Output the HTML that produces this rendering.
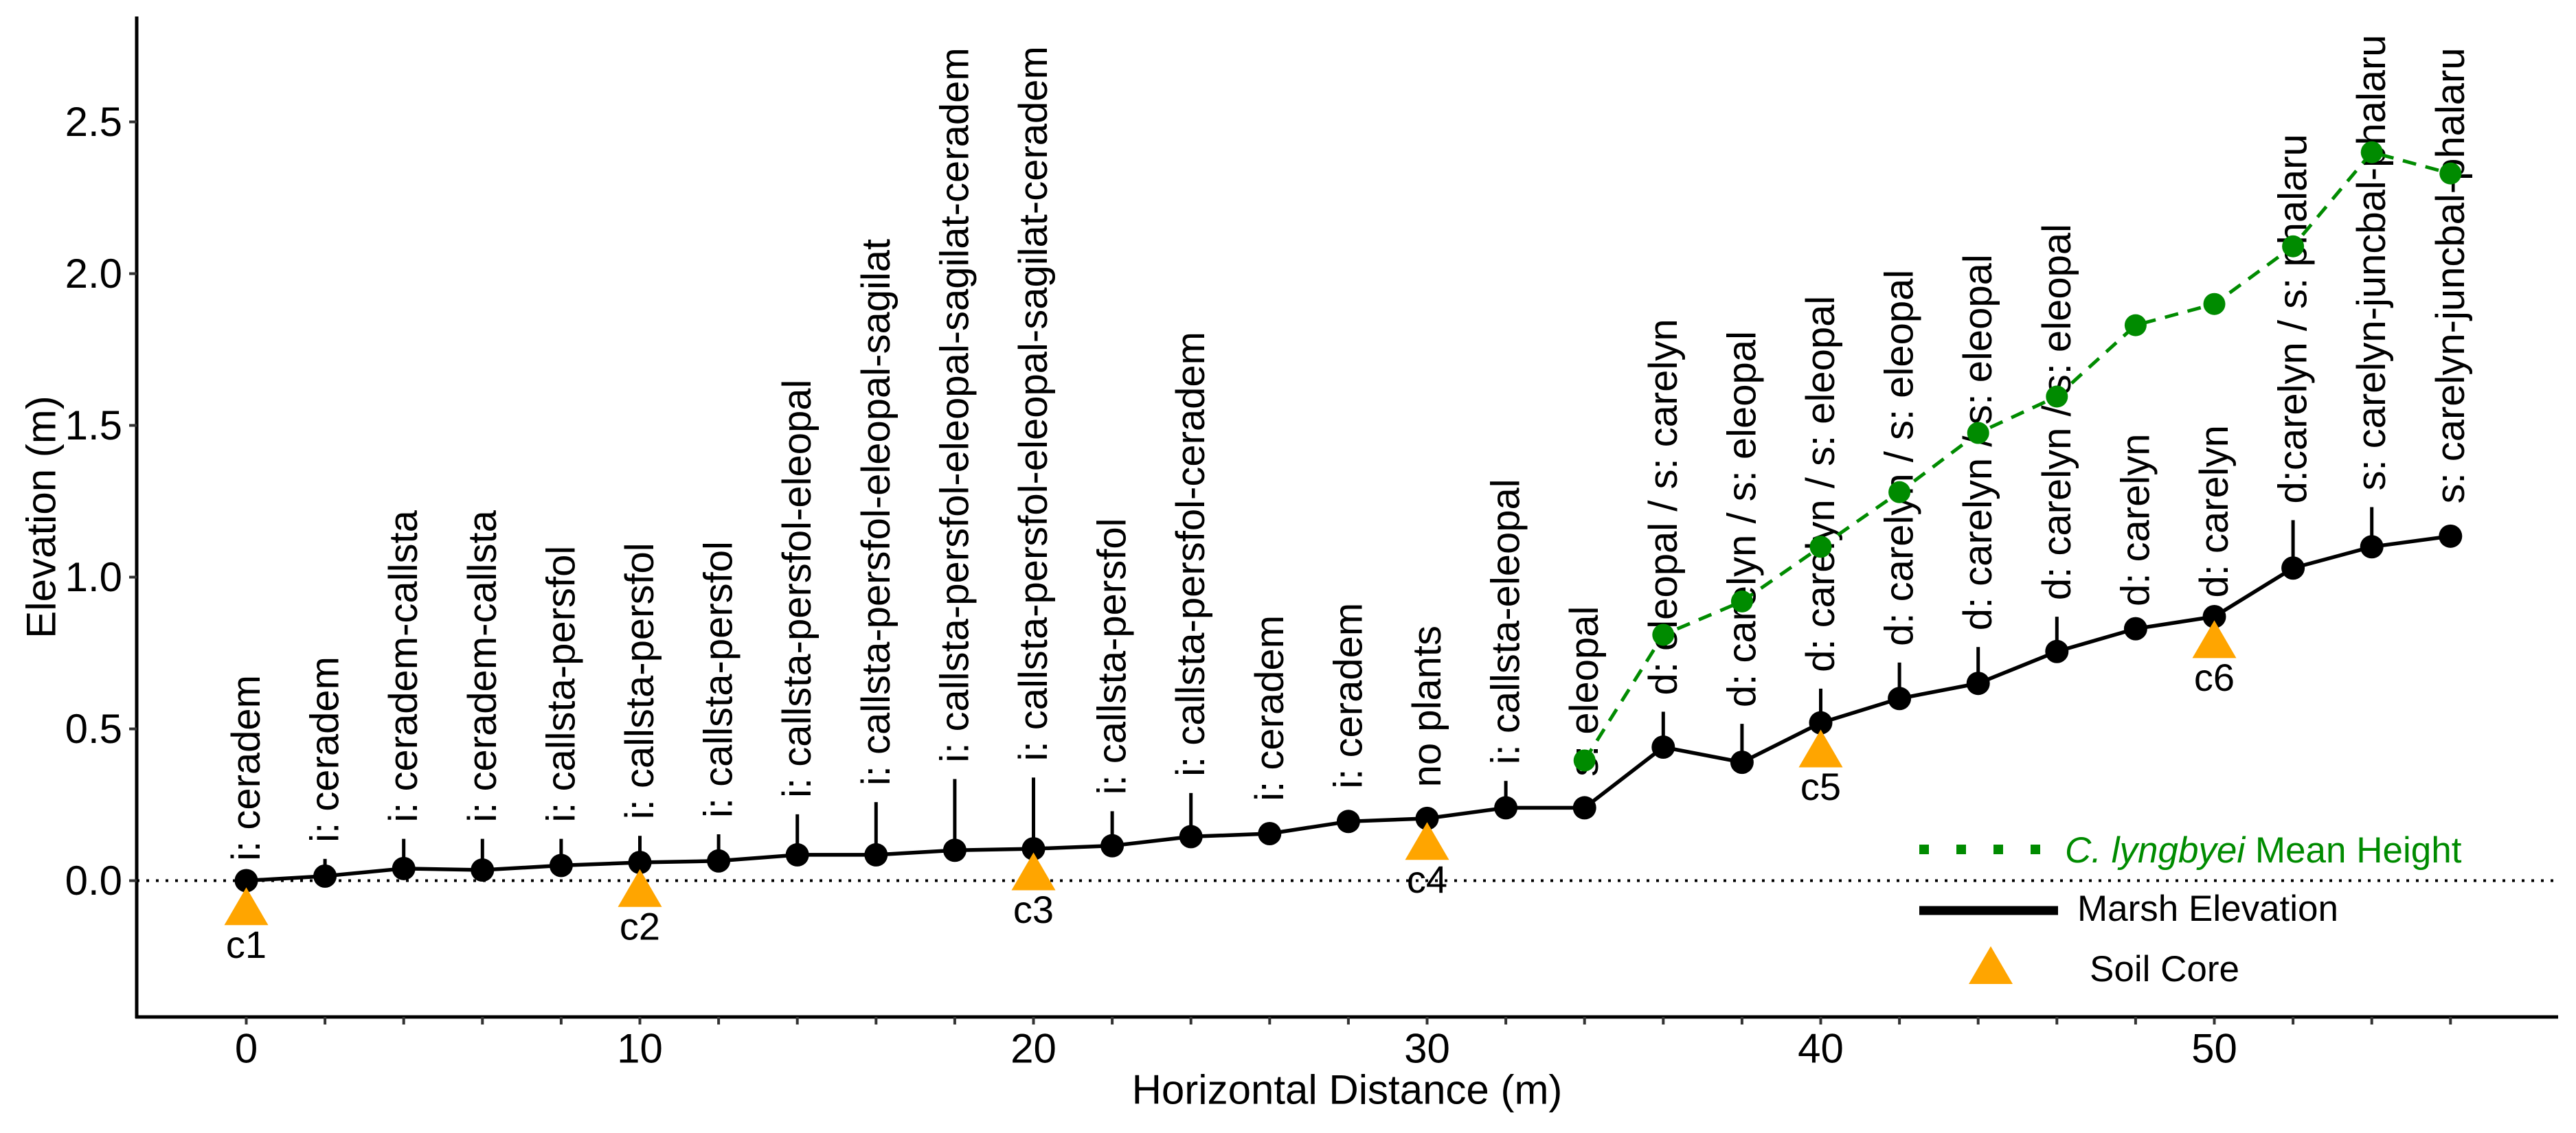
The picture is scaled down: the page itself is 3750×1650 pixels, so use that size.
<!DOCTYPE html>
<html><head><meta charset="utf-8"><style>
html,body{margin:0;padding:0;background:#fff;}
svg{display:block;font-family:"Liberation Sans",Arial,sans-serif;}
</style></head><body>
<svg id="chart" width="3750" height="1650" viewBox="0 0 3750 1650" xmlns="http://www.w3.org/2000/svg">
<g id="grid"></g>
<g id="plot"></g>
<g id="axes"></g>
<g id="legend">
  <line x1="2794" y1="1237" x2="2970" y2="1237" stroke="#008B00" stroke-width="14" stroke-dasharray="14,40"/>
  <text x="3006" y="1256" font-size="53" fill="#008B00"><tspan font-style="italic">C. lyngbyei</tspan> Mean Height</text>
  <line x1="2794" y1="1326" x2="2996" y2="1326" stroke="#000" stroke-width="13"/>
  <text x="3024" y="1341" font-size="53" fill="#000">Marsh Elevation</text>
  <polygon points="2898,1378 2866,1433 2930,1433" fill="#FFA500"/>
  <text x="3042" y="1429" font-size="53" fill="#000">Soil Core</text>
</g>
</svg>
<script>
const distances = [0,2,4,6,8,10,12,14,16,18,20,22,24,26,28,30,32,34,36,38,40,42,44,46,48,50,52,54,56];
const elevations = [0,0.015,0.04,0.035,0.05,0.06,0.065,0.085,0.085,0.1,0.105,0.115,0.145,0.155,0.195,0.205,0.24,0.24,0.44,0.39,0.52,0.6,0.65,0.755,0.83,0.87,1.03,1.1,1.135];
const plantLabels = ["i: ceradem","i: ceradem","i: ceradem-callsta","i: ceradem-callsta","i: callsta-persfol","i: callsta-persfol","i: callsta-persfol","i: callsta-persfol-eleopal","i: callsta-persfol-eleopal-sagilat","i: callsta-persfol-eleopal-sagilat-ceradem","i: callsta-persfol-eleopal-sagilat-ceradem","i: callsta-persfol","i: callsta-persfol-ceradem","i: ceradem","i: ceradem","no plants","i: callsta-eleopal","s: eleopal","d: eleopal / s: carelyn","d: carelyn / s: eleopal","d: carelyn / s: eleopal","d: carelyn / s: eleopal","d: carelyn / s: eleopal","d: carelyn / s: eleopal","d: carelyn","d: carelyn","d:carelyn / s: phalaru","s: carelyn-juncbal-phalaru","s: carelyn-juncbal-phalaru"];
const labelElev = [0.065,0.126,0.192,0.192,0.192,0.202,0.207,0.273,0.313,0.389,0.394,0.283,0.343,0.262,0.303,0.308,0.383,0.343,0.611,0.571,0.687,0.773,0.824,0.924,0.904,0.932,1.242,1.285,1.242];
const greenDistances = [34,36,38,40,42,44,46,48,50,52,54,56];
const greenHeights = [0.396,0.81,0.92,1.1,1.28,1.475,1.595,1.83,1.9,2.09,2.4,2.33];
const coreDistances = [0,10,20,30,40,50];
const coreElev = [-0.09,-0.03,0.025,0.125,0.43,0.79];
const coreNames = ["c1","c2","c3","c4","c5","c6"];
const yTicks = [0,0.5,1,1.5,2,2.5];
const yTickLabels = ["0.0","0.5","1.0","1.5","2.0","2.5"];
const xMajor = [0,10,20,30,40,50];
const xMinor = [0,2,4,6,8,10,12,14,16,18,20,22,24,26,28,30,32,34,36,38,40,42,44,46,48,50,52,54,56];

const NS="http://www.w3.org/2000/svg";
const X0=358.5, XS=57.3, Y0=1282.5, YS=442;
const LEFT=199, RIGHT=3724, TOP=24, BOTTOM=1481;
const sx=d=>X0+d*XS, sy=v=>Y0-v*YS;
function mk(tag,attrs,parent,text){const e=document.createElementNS(NS,tag);for(const k in attrs)e.setAttribute(k,attrs[k]);if(text!==undefined)e.textContent=text;parent.appendChild(e);return e;}
const plot=document.getElementById('plot'), axes=document.getElementById('axes');

let z=mk('line',{x1:LEFT,y1:sy(0),x2:RIGHT,y2:sy(0),stroke:'#000','stroke-width':4,'stroke-dasharray':'4,10'},plot);



distances.forEach((d,i)=>{
  const px=sx(d), py=sy(elevations[i]), lb=sy(labelElev[i]);
  const segTop=lb+24;
  if(py-segTop>25){
    const s=mk('line',{x1:px,y1:py,x2:px,y2:segTop,stroke:'#000','stroke-width':5},plot);
    
    
  }
  const t=mk('text',{x:px,y:lb,'font-size':58,fill:'#000','dominant-baseline':'central',transform:`rotate(-90 ${px} ${lb})`},plot,plantLabels[i]);
  
  
});

const gp=greenDistances.map((d,i)=>sx(d)+','+sy(greenHeights[i])).join(' ');
let gl=mk('polyline',{points:gp,fill:'none',stroke:'#008B00','stroke-width':5,'stroke-dasharray':'20,14'},plot);


greenDistances.forEach((d,i)=>{
  const c=mk('circle',{cx:sx(d),cy:sy(greenHeights[i]),r:16,fill:'#008B00'},plot);
  
  
});

const bp=distances.map((d,i)=>sx(d)+','+sy(elevations[i])).join(' ');
let bl=mk('polyline',{points:bp,fill:'none',stroke:'#000','stroke-width':5.5},plot);


distances.forEach((d,i)=>{
  const c=mk('circle',{cx:sx(d),cy:sy(elevations[i]),r:17,fill:'#000'},plot);
  
  
});

coreDistances.forEach((d,i)=>{
  const cx=sx(d), cy=sy(coreElev[i]);
  const p=mk('polygon',{points:`${cx},${cy-30} ${cx-32},${cy+25} ${cx+32},${cy+25}`,fill:'#FFA500'},plot);
  
  
  const t=mk('text',{x:cx,y:cy+53,'font-size':56,'text-anchor':'middle','dominant-baseline':'central',fill:'#000'},plot,coreNames[i]);
  
  
});

let ya=mk('line',{x1:LEFT,y1:TOP,x2:LEFT,y2:BOTTOM+2,stroke:'#000','stroke-width':5},axes);


let xa=mk('line',{x1:LEFT-2,y1:BOTTOM,x2:RIGHT,y2:BOTTOM,stroke:'#000','stroke-width':5},axes);


yTicks.forEach((v,i)=>{
  const y=sy(v);
  const tk=mk('line',{x1:LEFT-11,y1:y,x2:LEFT,y2:y,stroke:'#333','stroke-width':4},axes);
  
  
  const t=mk('text',{x:178,y:y,'font-size':60,'text-anchor':'end','dominant-baseline':'central',fill:'#000'},axes,yTickLabels[i]);
  
  
});
xMinor.forEach(d=>{
  const tk=mk('line',{x1:sx(d),y1:BOTTOM,x2:sx(d),y2:BOTTOM+11,stroke:'#333','stroke-width':4},axes);
  
  
});
xMajor.forEach(d=>{
  const t=mk('text',{x:sx(d),y:1527,'font-size':60,'text-anchor':'middle','dominant-baseline':'central',fill:'#000'},axes,String(d));
  
  
});
let xt=mk('text',{x:1961,y:1587,'font-size':60,'text-anchor':'middle','dominant-baseline':'central',fill:'#000'},axes,'Horizontal Distance (m)');


let yt=mk('text',{x:60,y:753,'font-size':60,'text-anchor':'middle','dominant-baseline':'central',fill:'#000',transform:'rotate(-90 60 753)'},axes,'Elevation (m)');


</script>
</body></html>
